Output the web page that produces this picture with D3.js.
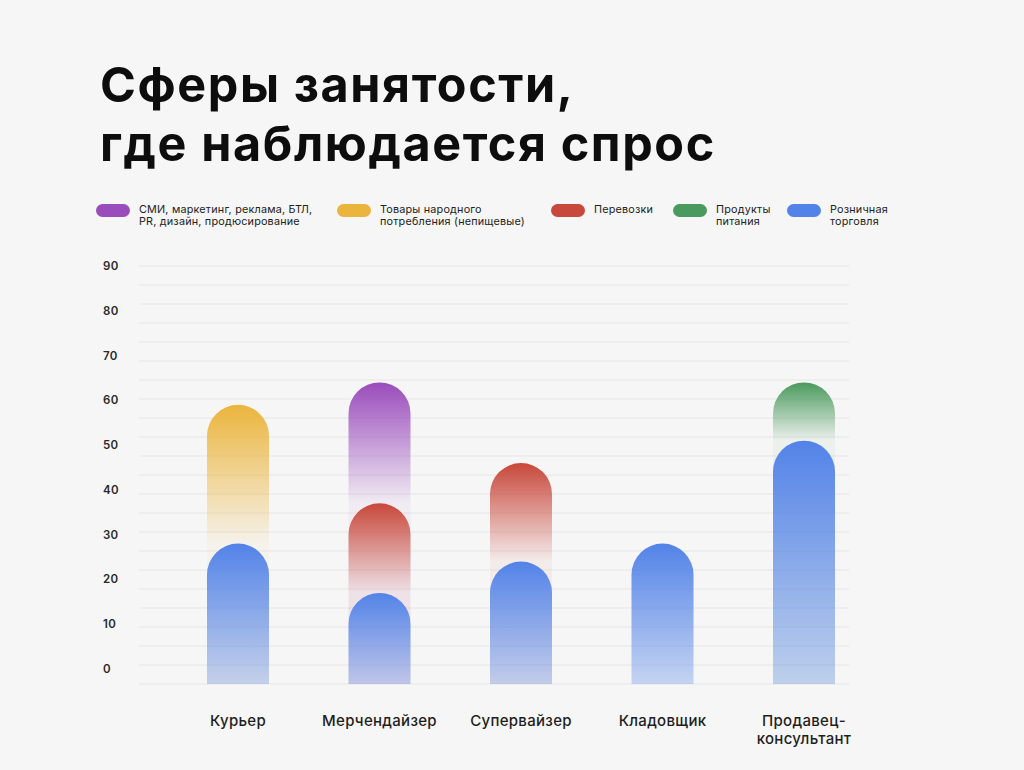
<!DOCTYPE html>
<html><head><meta charset="utf-8">
<script src="https://cdn.jsdelivr.net/npm/d3@7"></script>
<style>
html,body{margin:0;padding:0;background:#f6f6f6;}
svg{display:block;font-family:Inter,"Noto Sans",Roboto,sans-serif;}
</style></head>
<body><svg id="c" width="1024" height="770"></svg>
<script>
const titleLines = ["Сферы занятости,", "где наблюдается спрос"];
const categories = ["Курьер", "Мерчендайзер", "Супервайзер", "Кладовщик", "Продавец-консультант"];
const categoryLines = [["Курьер"], ["Мерчендайзер"], ["Супервайзер"], ["Кладовщик"], ["Продавец-", "консультант"]];
const seriesNames = ["СМИ, маркетинг, реклама, БТЛ, PR, дизайн, продюсирование", "Товары народного потребления (непищевые)", "Перевозки", "Продукты питания", "Розничная торговля"];
const legendLines = [["СМИ, маркетинг, реклама, БТЛ,", "PR, дизайн, продюсирование"], ["Товары народного", "потребления (непищевые)"], ["Перевозки"], ["Продукты", "питания"], ["Розничная", "торговля"]];
const seriesColors = ["#9a4cbc", "#ebb53d", "#c8483b", "#4b9a5d", "#5383e8"];
const valuesSMI       = [null, 64, null, null, null];
const valuesGoods     = [59, null, null, null, null];
const valuesTransport = [null, 37, 46, null, null];
const valuesFood      = [null, null, null, null, 64];
const valuesRetail    = [28, 17, 24, 28, 51];
const yTicks = [0, 10, 20, 30, 40, 50, 60, 70, 80, 90];

const seriesValues = [valuesSMI, valuesGoods, valuesTransport, valuesFood, valuesRetail];

const svg = d3.select("#c");
const defs = svg.append("defs");

// title
svg.append("g").selectAll("text").data(titleLines).join("text")
  .attr("x", 100).attr("y", (d, i) => 102 + i * 59)
  .attr("font-size", 48.5).attr("font-weight", 700).attr("fill", "#0d0d0d")
  .attr("letter-spacing", "1.6")
  .text(d => d);

// legend
const legendX = [96, 337, 551, 673, 787];
const lg = svg.append("g").selectAll("g").data(seriesNames).join("g")
  .attr("transform", (d, i) => `translate(${legendX[i]},204)`);
lg.append("rect").attr("width", 34).attr("height", 13).attr("rx", 6.5)
  .attr("fill", (d, i) => seriesColors[i]);
lg.append("text").attr("x", 43).attr("y", 9).attr("font-size", 10.8).attr("fill", "#222")
  .attr("letter-spacing", "0.2")
  .selectAll("tspan").data((d, i) => legendLines[i]).join("tspan")
  .attr("x", 43).attr("dy", (d, j) => j === 0 ? 0 : 12).text(d => d);

// scales
const plotTop = 266, plotBottom = 684;
const y = d3.scaleLinear().domain([0, 90]).range([669, 266]);
const x = d3.scalePoint().domain(categories).range([238, 804]);
const barW = 62, r = barW / 2;

// gridlines
const nGrid = 22;
const gy = d3.scaleLinear().domain([0, nGrid]).range([plotBottom, plotTop]);
svg.append("g").selectAll("line").data(d3.range(nGrid + 1)).join("line")
  .attr("x1", 139).attr("x2", 849)
  .attr("y1", d => gy(d)).attr("y2", d => gy(d))
  .attr("stroke", "#e6e6e6").attr("stroke-width", 1.2);

// y labels
svg.append("g").selectAll("text").data(yTicks).join("text")
  .attr("x", 103).attr("y", d => y(d) + 4)
  .attr("font-size", 11.5).attr("font-weight", 600).attr("fill", "#2a2a2a")
  .attr("letter-spacing", "0.3")
  .text(d => d);

// bars
categories.forEach((cat, ci) => {
  const layers = seriesValues.map((vals, si) => ({ si, v: vals[ci] }))
    .filter(d => d.v != null)
    .sort((a, b) => b.v - a.v);
  const cx = x(cat);
  layers.forEach((L, li) => {
    const top = y(L.v);
    const next = layers[li + 1];
    const id = `g${ci}_${L.si}`;
    const grad = defs.append("linearGradient").attr("id", id)
      .attr("gradientUnits", "userSpaceOnUse")
      .attr("x1", 0).attr("x2", 0).attr("y1", top);
    if (next) {
      grad.attr("y2", y(next.v));
      grad.append("stop").attr("offset", 0).attr("stop-color", seriesColors[L.si]).attr("stop-opacity", 1);
      grad.append("stop").attr("offset", 1).attr("stop-color", seriesColors[L.si]).attr("stop-opacity", 0.06);
    } else {
      grad.attr("y2", plotBottom);
      grad.append("stop").attr("offset", 0).attr("stop-color", seriesColors[L.si]).attr("stop-opacity", 1);
      grad.append("stop").attr("offset", 1).attr("stop-color", seriesColors[L.si]).attr("stop-opacity", 0.3);
    }
    const x0 = cx - r, x1 = cx + r;
    const p = d3.path();
    p.moveTo(x0, plotBottom);
    p.lineTo(x0, top + r);
    p.arc(cx, top + r, r, Math.PI, 0);
    p.lineTo(x1, plotBottom);
    p.closePath();
    svg.append("path").attr("d", p.toString()).attr("fill", `url(#${id})`);
  });
});

// x labels
svg.append("g").selectAll("text").data(categories).join("text")
  .attr("x", d => x(d)).attr("y", 726).attr("text-anchor", "middle")
  .attr("font-size", 15).attr("font-weight", 500).attr("fill", "#1e1e1e")
  .attr("letter-spacing", "0.3")
  .selectAll("tspan").data((d, i) => categoryLines[i]).join("tspan")
  .attr("x", function () { return d3.select(this.parentNode).attr("x"); })
  .attr("dy", (d, j) => j === 0 ? 0 : 18).text(d => d);
</script></body></html>
